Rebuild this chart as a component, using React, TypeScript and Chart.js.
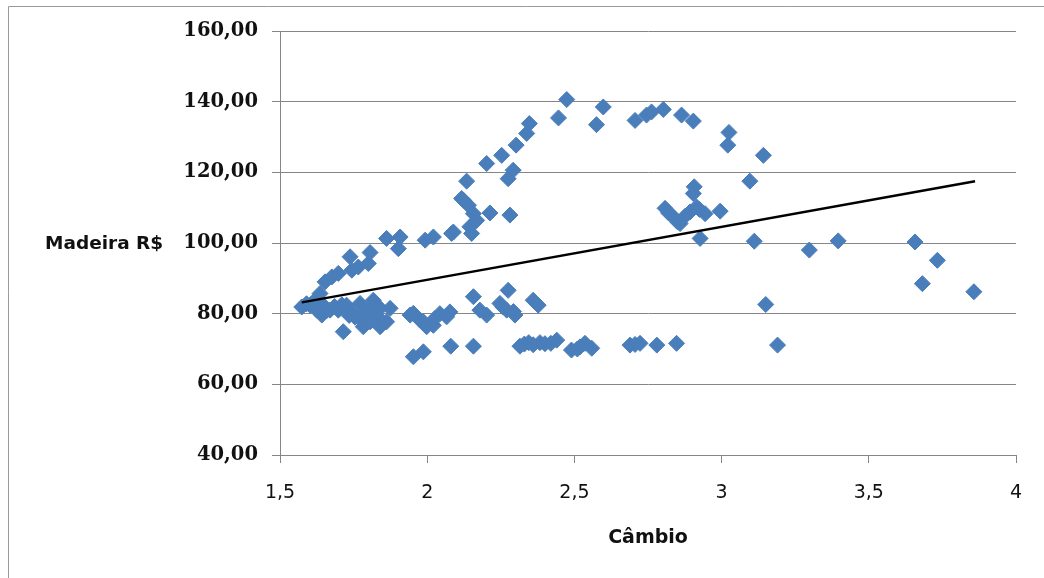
import React, { useEffect, useRef } from "react";
import { Chart, registerables } from "chart.js";

Chart.register(...registerables);

// Câmbio (x) values of the scatter points
const cambio: number[] = [
  1.574, 1.59, 1.602, 1.613, 1.625, 1.642, 1.647, 1.658, 1.67, 1.685, 1.698, 1.71, 1.715, 1.726, 1.735, 1.744, 1.755, 1.772, 1.772, 1.783, 1.79, 1.8, 1.806, 1.817, 1.828, 1.84, 1.84, 1.862, 1.874,
  1.636, 1.653, 1.676, 1.698, 1.738, 1.744, 1.766, 1.8, 1.806, 1.862, 1.902, 1.908, 1.993, 2.021, 2.083, 2.089,
  1.942, 1.953, 1.975, 1.987, 1.998, 2.021, 2.026, 2.043, 2.066, 2.077, 1.953, 1.987, 2.08, 2.157,
  2.157, 2.179, 2.202, 2.247, 2.257, 2.27, 2.275, 2.293, 2.298, 2.36, 2.377,
  2.315, 2.33, 2.345, 2.36, 2.383, 2.4, 2.42, 2.44, 2.49, 2.51, 2.519, 2.536, 2.559, 2.689, 2.706, 2.723, 2.78, 2.847, 3.19,
  2.117, 2.123, 2.134, 2.14, 2.145, 2.151, 2.157, 2.168, 2.202, 2.213, 2.253, 2.275, 2.281, 2.292, 2.302, 2.338, 2.347, 2.446, 2.474, 2.575, 2.598, 2.706, 2.745, 2.762, 2.802, 2.864, 2.904, 3.021, 3.025, 3.142, 3.096,
  2.808, 2.82, 2.836, 2.85, 2.859, 2.875, 2.893, 2.904, 2.907, 2.915, 2.925, 2.944, 2.995, 2.927, 3.111, 3.298, 3.396, 3.657, 3.733, 3.682, 3.857, 3.15,
];

// Madeira R$ (y) values of the scatter points
const madeira: number[] = [
  81.9, 82.8, 82.4, 83.3, 81.0, 79.6, 82.4, 80.8, 81.0, 82.0, 81.0, 82.5, 74.9, 82.4, 79.5, 80.5, 79.0, 82.9, 78.6, 76.3, 80.5, 81.0, 77.7, 83.8, 79.5, 81.5, 76.3, 77.7, 81.5,
  85.7, 89.0, 90.4, 91.4, 96.1, 92.3, 93.2, 94.2, 97.3, 101.3, 98.4, 101.7, 100.8, 101.7, 102.7, 103.1,
  79.6, 80.1, 78.2, 77.7, 76.3, 76.7, 78.6, 80.0, 79.1, 80.5, 67.8, 69.2, 70.8, 70.8,
  84.8, 81.0, 79.6, 82.9, 81.9, 81.0, 86.6, 80.6, 79.6, 83.8, 82.4,
  70.8, 71.4, 71.8, 71.2, 71.8, 71.5, 71.6, 72.5, 69.7, 70.0, 70.6, 71.6, 70.2, 71.1, 71.3, 71.6, 71.1, 71.6, 71.1,
  112.6, 112.1, 117.5, 110.7, 104.6, 102.7, 108.3, 106.4, 122.5, 108.5, 124.8, 118.2, 107.9, 120.6, 127.7, 131.0, 133.8, 135.4, 140.6, 133.5, 138.5, 134.7, 136.2, 137.1, 137.8, 136.2, 134.5, 127.7, 131.3, 124.8, 117.5,
  109.8, 108.5, 107.4, 106.0, 105.5, 107.5, 108.8, 114.0, 115.9, 110.2, 109.5, 108.3, 109.0, 101.3, 100.5, 98.0, 100.6, 100.3, 95.1, 88.5, 86.2, 82.6,
];

// Linear trend line end points
const trendX: number[] = [1.574, 3.861];
const trendY: number[] = [83.2, 117.5];

// Axis settings
const xTicks: number[] = [1.5, 2, 2.5, 3, 3.5, 4];
const yTicks: number[] = [40, 60, 80, 100, 120, 140, 160];
const xTitle = "Câmbio";
const yTitle = "Madeira R$";

export default function App() {
  const ref = useRef<HTMLCanvasElement | null>(null);

  useEffect(() => {
    if (!ref.current) return;
    const gridColor = "#868686";

    const framePlugin = {
      id: "frame",
      beforeDraw(chart: any) {
        const ctx = chart.ctx;
        ctx.save();
        ctx.fillStyle = "#ffffff";
        ctx.fillRect(0, 0, chart.width, chart.height);
        ctx.strokeStyle = "#9a9a9a";
        ctx.lineWidth = 1;
        ctx.beginPath();
        ctx.moveTo(8.5, 578);
        ctx.lineTo(8.5, 6.5);
        ctx.lineTo(1044, 6.5);
        ctx.stroke();
        ctx.restore();
      },
      afterDraw(chart: any) {
        const ctx = chart.ctx;
        const y = chart.scales.y;
        ctx.save();
        ctx.font = "bold 18.5px 'DejaVu Sans'";
        ctx.fillStyle = "#111";
        ctx.textAlign = "left";
        ctx.textBaseline = "middle";
        ctx.fillText(yTitle, 45, y.getPixelForValue(100) + 1);
        ctx.restore();
      },
    };

    const chart = new Chart(ref.current, {
      type: "scatter",
      data: {
        datasets: [
          {
            type: "line",
            label: "Tendência",
            data: trendX.map((x, i) => ({ x, y: trendY[i] })),
            borderColor: "#000000",
            borderWidth: 2.5,
            pointRadius: 0,
            fill: false,
            order: 0,
          },
          {
            label: yTitle,
            data: cambio.map((x, i) => ({ x, y: madeira[i] })),
            pointStyle: "rectRot",
            pointRadius: 8,
            pointBackgroundColor: "#4A7EBB",
            pointBorderColor: "#4A7EBB",
            pointBorderWidth: 1,
            order: 1,
          } as any,
        ],
      },
      options: {
        responsive: false,
        animation: false,
        layout: { padding: { left: 0, right: 28, top: 31, bottom: 0 } },
        plugins: {
          legend: { display: false },
          tooltip: { enabled: false },
        },
        scales: {
          x: {
            type: "linear",
            min: 1.5,
            max: 4,
            afterBuildTicks: (s: any) => {
              s.ticks = xTicks.map((v) => ({ value: v }));
            },
            afterFit: (s: any) => {
              s.height = 123;
              s.paddingLeft = 0;
              s.paddingRight = 0;
            },
            ticks: {
              color: "#111",
              font: { family: "'DejaVu Sans'", size: 19 },
              padding: 19,
              maxRotation: 0,
              callback: (v: any) => String(v).replace(".", ","),
            },
            grid: {
              drawOnChartArea: false,
              drawTicks: true,
              tickLength: 8,
              color: gridColor,
            },
            border: { display: true, color: gridColor, width: 1 },
            title: {
              display: true,
              text: xTitle,
              color: "#111",
              font: { family: "'DejaVu Sans'", size: 19, weight: "bold" },
              padding: { top: 0, bottom: 29 },
            },
          },
          y: {
            type: "linear",
            min: 40,
            max: 160,
            afterBuildTicks: (s: any) => {
              s.ticks = yTicks.map((v) => ({ value: v }));
            },
            afterFit: (s: any) => {
              s.width = 280;
              s.paddingTop = 0;
              s.paddingBottom = 0;
            },
            ticks: {
              color: "#111",
              font: { family: "'DejaVu Serif'", size: 19.5, weight: "bold" },
              padding: 14,
              callback: (v: any) => Number(v).toFixed(2).replace(".", ","),
            },
            grid: {
              drawOnChartArea: true,
              drawTicks: true,
              tickLength: 8,
              color: gridColor,
            },
            border: { display: true, color: gridColor, width: 1 },
          },
        },
      },
      plugins: [framePlugin],
    } as any);

    return () => chart.destroy();
  }, []);

  return (
    <div style={{ position: "absolute", left: 0, top: 0, width: 1044, height: 578 }}>
      <canvas ref={ref} width={1044} height={578} />
    </div>
  );
}
